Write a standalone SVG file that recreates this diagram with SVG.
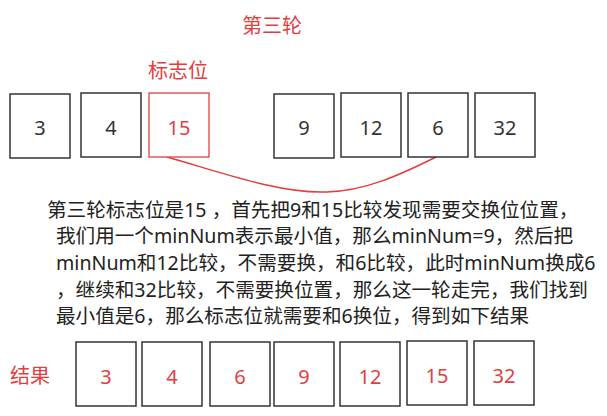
<svg xmlns="http://www.w3.org/2000/svg" width="607" height="416" viewBox="0 0 607 416">
<style>
.box{fill:#fff;stroke:#333;stroke-width:1.5}
.rbox{fill:#fff;stroke:#e23e3e;stroke-width:1.3}
.num{font-family:"Noto Sans","Noto Sans CJK SC",sans-serif;font-size:20px;text-anchor:middle;fill:#333}
.red{fill:#e23e3e}
.lbl{font-family:"Noto Sans CJK SC",sans-serif;font-size:20px;fill:#e23e3e}
.para{font-family:"Noto Sans","Noto Sans CJK SC",sans-serif;font-size:19.6px;fill:#222}
</style>
<rect width="607" height="416" fill="#fff"/>
<g id="title"><text class="lbl" x="242" y="33">第三轮</text></g>
<g id="flag-label"><text class="lbl" x="148" y="78">标志位</text></g>
<g id="connectors">
<path d="M167,157 C220,172 280,194 327,192 C365,191 400,175 436,157" fill="none" stroke="#e23e3e" stroke-width="1.5"/>
</g>
<g id="n-3"><rect class="box" x="10" y="94" width="60" height="64"/><text class="num" x="40" y="135">3</text></g>
<g id="n-4"><rect class="box" x="81" y="93" width="60" height="64"/><text class="num" x="111" y="135">4</text></g>
<g id="n-15"><rect class="rbox" x="149" y="93" width="60" height="64"/><text class="num red" x="179" y="135">15</text></g>
<g id="n-9"><rect class="box" x="274" y="94" width="60" height="64"/><text class="num" x="304" y="135">9</text></g>
<g id="n-12"><rect class="box" x="341" y="93" width="60" height="64"/><text class="num" x="371" y="135">12</text></g>
<g id="n-6"><rect class="box" x="408" y="93" width="60" height="64"/><text class="num" x="438" y="135">6</text></g>
<g id="n-32"><rect class="box" x="475" y="93" width="60" height="64"/><text class="num" x="505" y="135">32</text></g>
<g id="description">
<text class="para" x="47" y="217">第三轮标志位是15 ，首先把9和15比较发现需要交换位位置，</text>
<text class="para" x="56" y="243">我们用一个minNum表示最小值，那么minNum=9，然后把</text>
<text class="para" x="56" y="270">minNum和12比较，不需要换，和6比较，此时minNum换成6</text>
<text class="para" x="56" y="297">，继续和32比较，不需要换位置，那么这一轮走完，我们找到</text>
<text class="para" x="56" y="323">最小值是6，那么标志位就需要和6换位，得到如下结果</text>
</g>
<g id="result-label"><text class="lbl" x="10" y="383">结果</text></g>
<g id="r-3"><rect class="box" x="76" y="342" width="60" height="64"/><text class="num red" x="106" y="384">3</text></g>
<g id="r-4"><rect class="box" x="142" y="342" width="60" height="64"/><text class="num red" x="172" y="384">4</text></g>
<g id="r-6"><rect class="box" x="210" y="342" width="60" height="64"/><text class="num red" x="240" y="384">6</text></g>
<g id="r-9"><rect class="box" x="274" y="342" width="60" height="64"/><text class="num red" x="304" y="384">9</text></g>
<g id="r-12"><rect class="box" x="340" y="342" width="60" height="64"/><text class="num red" x="370" y="384">12</text></g>
<g id="r-15"><rect class="box" x="407" y="341" width="60" height="64"/><text class="num red" x="437" y="383">15</text></g>
<g id="r-32"><rect class="box" x="474" y="341" width="60" height="64"/><text class="num red" x="504" y="383">32</text></g>
</svg>
